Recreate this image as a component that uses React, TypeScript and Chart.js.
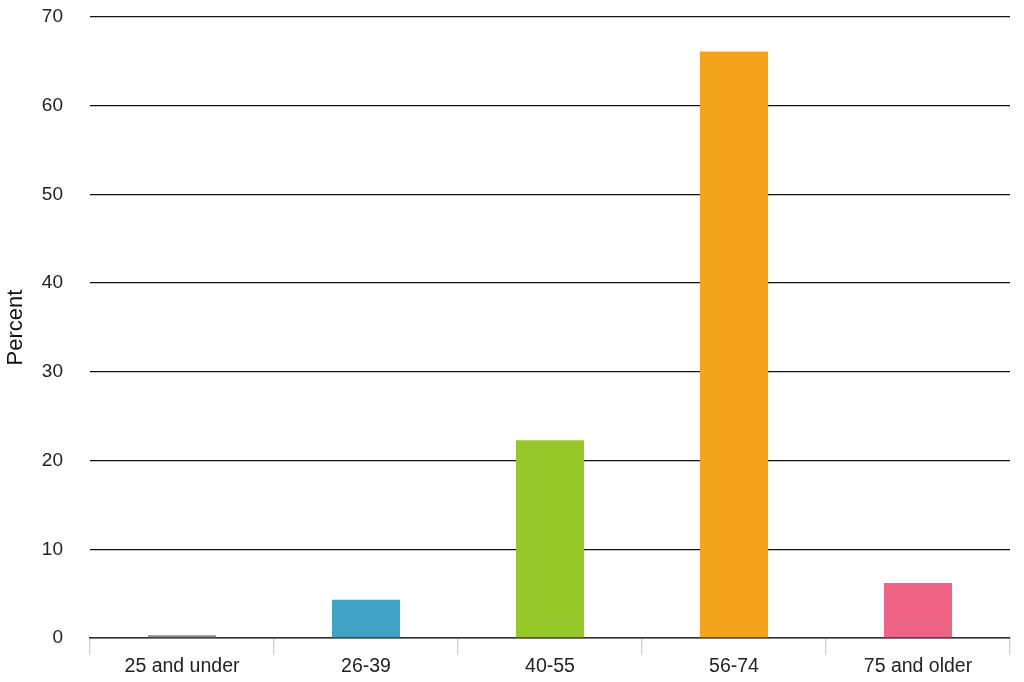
import React, { useEffect, useRef } from "react";
import { Chart, registerables } from "chart.js";

Chart.register(...registerables);

const categories = ["25 and under", "26-39", "40-55", "56-74", "75 and older"];
const percentValues = [0.3, 4.3, 22.3, 66.1, 6.2];
const barColors = ["#8c8c8c", "#41a3c4", "#97c82a", "#f4a41c", "#ef6385"];
const yTicks = [0, 10, 20, 30, 40, 50, 60, 70];

export default function App() {
  const canvasRef = useRef<HTMLCanvasElement | null>(null);

  useEffect(() => {
    if (!canvasRef.current) return;
    const chart = new Chart(canvasRef.current, {
      type: "bar",
      data: {
        labels: categories,
        datasets: [
          {
            data: percentValues,
            backgroundColor: barColors,
            borderWidth: 0,
            barPercentage: 0.37,
            categoryPercentage: 1,
          },
        ],
      },
      options: {
        animation: false,
        responsive: false,
        maintainAspectRatio: false,
        layout: { padding: { top: 17, right: 14, left: 0, bottom: 0 } },
        plugins: { legend: { display: false }, tooltip: { enabled: false } },
        scales: {
          x: {
            afterFit: (scale: any) => {
              scale.height = 44;
              scale.paddingLeft = 0;
              scale.paddingRight = 0;
            },
            grid: {
              display: true,
              drawOnChartArea: false,
              drawTicks: true,
              tickLength: 17,
              offset: true,
              color: "#c5d2e8",
              lineWidth: 1.3,
            },
            border: { display: true, color: "#333333", width: 1.5 },
            ticks: {
              color: "#222222",
              font: { family: "Liberation Sans, Arial, sans-serif", size: 19.5 },
              padding: 0,
            },
          },
          y: {
            min: 0,
            max: 70,
            afterFit: (scale: any) => {
              scale.width = 90;
              scale.paddingTop = 0;
              scale.paddingBottom = 0;
            },
            afterBuildTicks: (scale: any) => {
              scale.ticks = yTicks.map((v) => ({ value: v }));
            },
            grid: {
              color: "#111111",
              lineWidth: 1.3,
              drawTicks: false,
            },
            border: { display: false },
            ticks: {
              color: "#222222",
              font: { family: "Liberation Sans, Arial, sans-serif", size: 19 },
              padding: 27,
            },
            title: {
              display: true,
              text: "Percent",
              color: "#111111",
              font: { family: "Liberation Sans, Arial, sans-serif", size: 22 },
              padding: { top: 3, bottom: 0 },
            },
          },
        },
      },
    });
    return () => chart.destroy();
  }, []);

  return (
    <div style={{ position: "absolute", left: 0, top: 0, width: 1024, height: 682, background: "#ffffff" }}>
      <canvas ref={canvasRef} width={1024} height={682} />
    </div>
  );
}
